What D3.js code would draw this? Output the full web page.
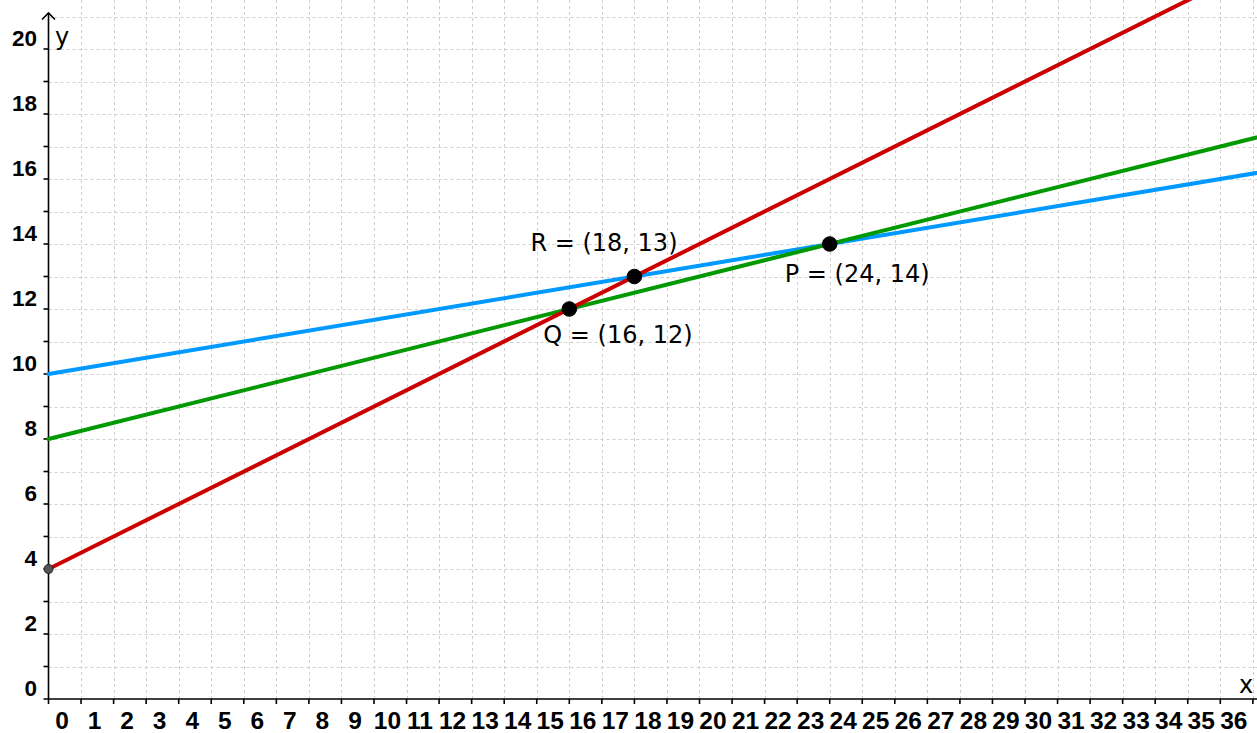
<!DOCTYPE html>
<html>
<head>
<meta charset="utf-8">
<script src="https://cdn.jsdelivr.net/npm/d3@7"></script>
<style>
  html, body { margin: 0; padding: 0; background: #fff; }
  svg { display: block; }
</style>
</head>
<body>
<svg id="chart" width="1257" height="733"></svg>
<script>
// ---- data ----
const xTickValues = d3.range(0, 37);          // 0..36 labelled
const yTickValues = d3.range(0, 21, 2);       // 0..20 labelled every 2
const xMinorTicks = d3.range(0, 38);
const yMinorTicks = d3.range(0, 22);
const lineNames = ["blue", "green", "red"];
const lineStarts = [[0, 10], [0, 8], [0, 4]];
const lineEnds = [[36, 16], [36, 17], [36, 22]];
const lineColors = ["#0099ff", "#009900", "#cc0000"];
const pointNames = ["R", "Q", "P"];
const pointXs = [18, 16, 24];
const pointYs = [13, 12, 14];
const startPoint = [0, 4];

// ---- layout ----
const W = 1257, H = 733;
const x0px = 48.5, xUnit = 32.55, y0px = 699, yUnit = 32.5;
const x = d3.scaleLinear().domain([-x0px / xUnit, (W - x0px) / xUnit]).range([0, W]);
const y = d3.scaleLinear().domain([-(H - y0px) / yUnit, y0px / yUnit]).range([H, 0]);

const svg = d3.select("#chart");
svg.append("defs").append("clipPath").attr("id", "clip")
  .append("rect").attr("x", 0).attr("y", 0).attr("width", W).attr("height", H);

// grid
const grid = svg.append("g").attr("stroke", "#cfcfcf").attr("stroke-width", 1)
  .attr("stroke-dasharray", "3,3");
grid.selectAll("line.v").data(xMinorTicks.filter(d => d > 0)).join("line")
  .attr("x1", d => Math.round(x(d)) + 0.5).attr("x2", d => Math.round(x(d)) + 0.5)
  .attr("y1", y(0)).attr("y2", 0);
grid.selectAll("line.h").data(yMinorTicks.filter(d => d > 0)).join("line")
  .attr("y1", d => Math.round(y(d)) + 0.5).attr("y2", d => Math.round(y(d)) + 0.5)
  .attr("x1", x(0)).attr("x2", W);

// axes
const ax = svg.append("g").attr("stroke", "#000").attr("stroke-width", 1.6).attr("fill", "none");
ax.append("line").attr("x1", x(0) - 5).attr("x2", W).attr("y1", y(0)).attr("y2", y(0));
ax.append("line").attr("x1", x(0)).attr("x2", x(0)).attr("y1", y(0)).attr("y2", 13);
ax.append("path").attr("d", `M${x(0) - 6.5},19.5 L${x(0)},13 L${x(0) + 6.5},19.5`);
ax.selectAll("line.xt").data(xMinorTicks).join("line")
  .attr("x1", d => x(d)).attr("x2", d => x(d)).attr("y1", y(0)).attr("y2", y(0) + 5);
ax.selectAll("line.yt").data(yMinorTicks.filter(d => d > 0 && d <= 20)).join("line")
  .attr("x1", x(0) - 5).attr("x2", x(0)).attr("y1", d => y(d)).attr("y2", d => y(d));

// tick labels
const tickFont = "'Liberation Sans', Arial, sans-serif";
const labelFont = "'DejaVu Sans', sans-serif";
svg.append("g").selectAll("text").data(xTickValues).join("text")
  .attr("x", d => x(d) + 13.5).attr("y", y(0) + 29.5)
  .attr("text-anchor", "middle").attr("font-family", tickFont)
  .attr("font-weight", "bold").attr("font-size", 24.5).attr("fill", "#000")
  .text(d => d);
svg.append("g").selectAll("text").data(yTickValues).join("text")
  .attr("x", 37).attr("y", d => y(d) - 3)
  .attr("text-anchor", "end").attr("font-family", tickFont)
  .attr("font-weight", "bold").attr("font-size", 22.5).attr("fill", "#000")
  .text(d => d);

// axis names
svg.append("text").attr("x", 55).attr("y", 45).attr("font-family", labelFont)
  .attr("font-size", 24).text("y");
svg.append("text").attr("x", 1239).attr("y", 693).attr("font-family", labelFont)
  .attr("font-size", 24).text("x");

// lines
const lineGen = d3.line().x(d => x(d[0])).y(d => y(d[1]));
const lg = svg.append("g").attr("clip-path", "url(#clip)");
lineNames.forEach((n, i) => {
  const s = lineStarts[i], e = lineEnds[i];
  const k = 1.2;
  const end = [s[0] + (e[0] - s[0]) * k, s[1] + (e[1] - s[1]) * k];
  lg.append("path").attr("d", lineGen([s, end]))
    .attr("stroke", lineColors[i]).attr("stroke-width", 4).attr("fill", "none")
    .attr("stroke-linecap", "round");
});

// start point
svg.append("circle").attr("cx", x(startPoint[0])).attr("cy", y(startPoint[1])).attr("r", 4.5)
  .attr("fill", "#555").attr("stroke", "#222").attr("stroke-width", 1);

// points
const labelOffsets = { R: [-104, -26], Q: [-26, 34], P: [-45, 38] };
pointNames.forEach((n, i) => {
  const cx = x(pointXs[i]), cy = y(pointYs[i]);
  svg.append("circle").attr("cx", cx).attr("cy", cy).attr("r", 7.3)
    .attr("fill", "#000").attr("stroke", "#000").attr("stroke-width", 1);
  svg.append("text").attr("x", cx + labelOffsets[n][0]).attr("y", cy + labelOffsets[n][1])
    .attr("font-family", labelFont).attr("font-size", 24).attr("fill", "#000")
    .text(`${n} = (${pointXs[i]}, ${pointYs[i]})`);
});
</script>
</body>
</html>
